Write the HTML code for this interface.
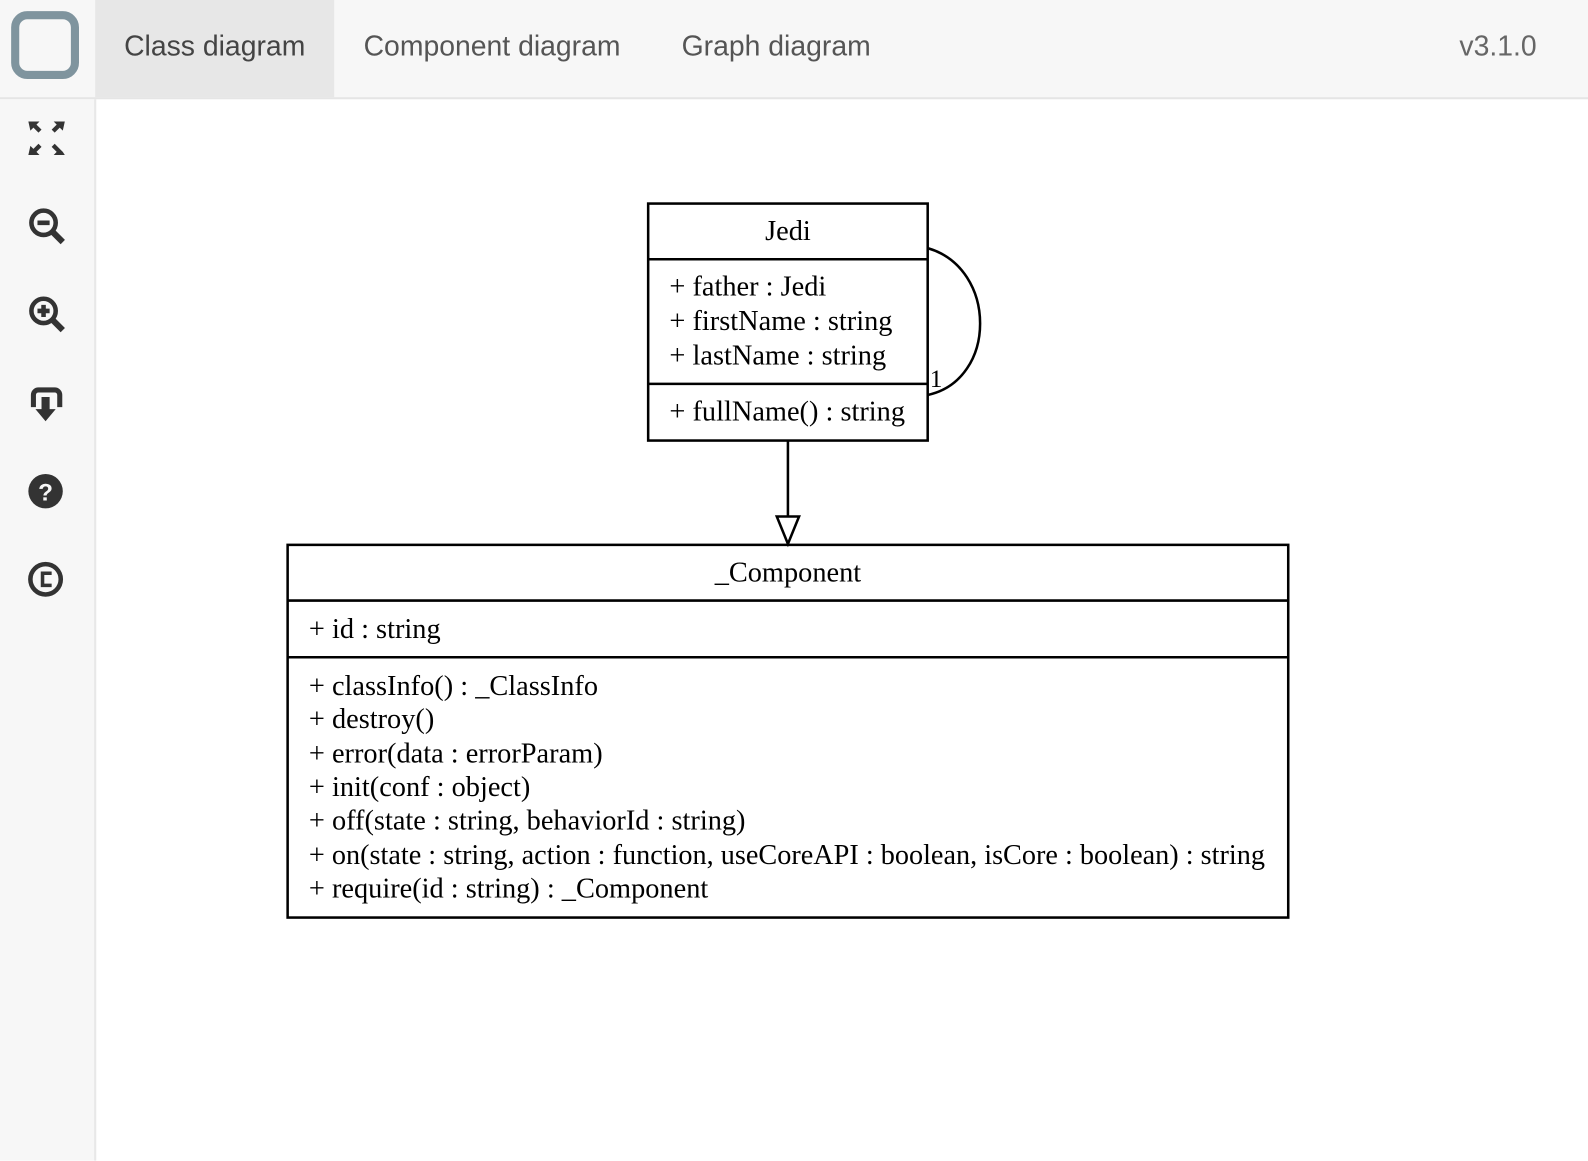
<!DOCTYPE html>
<html><head><meta charset="utf-8"><style>
body{margin:0;width:1588px;height:1146px;overflow:hidden;background:#fff;font-family:"Liberation Sans",sans-serif;position:relative}
#w{position:absolute;left:0;top:0;width:1568px;height:1132px;transform:scale(1.01276);transform-origin:0 0}
.hdr{position:absolute;left:0;top:0;width:1568px;height:96px;background:#f7f7f7;border-bottom:2px solid #e5e5e5}
.tab{position:absolute;top:0;height:96px;line-height:92px;font-size:28px;color:#555}
.side{position:absolute;left:0;top:98px;width:93px;height:1048px;background:#f7f7f7;border-right:2px solid #e8e8e8}
</style></head><body><div id="w">
<div class="hdr">
 <div style="position:absolute;border:8px solid #7f949e;border-radius:16px;width:51px;height:51px;left:11px;top:11px"></div>
 <div class="tab" style="left:94px;width:236px;background:#e7e7e7;text-align:center;color:#444">Class diagram</div>
 <div class="tab" style="left:359px">Component diagram</div>
 <div class="tab" style="left:673px">Graph diagram</div>
 <div class="tab" style="left:1441px;color:#666">v3.1.0</div>
</div>
<div class="side">
<svg width="93" height="520" viewBox="0 98 93 520">
 <g fill="#333">
  <path d="M28 120h11l-3 3 5 5-3 3-5-5-3 3z"/><path d="M64 120h-11l3 3-5 5 3 3 5-5 3 3z"/>
  <path d="M28 153h11l-3-3 5-5-3-3-5 5-3-3z"/><path d="M64 153h-11l3-3-5-5 3-3 5 5 3 3z"/>
 </g>
 <g stroke="#333" fill="none" stroke-width="4.5">
  <circle cx="43" cy="220" r="12"/><path d="M52 229l10 10" stroke-width="6"/><path d="M37 220h12"/>
  <circle cx="43" cy="307" r="12"/><path d="M52 316l10 10" stroke-width="6"/><path d="M37 307h12M43 301v12"/>
  <path d="M33 402v-12a5 5 0 0 1 5-5h16a5 5 0 0 1 5 5v12" stroke-width="5"/>
 </g>
 <path fill="#333" d="M41 404v-12h8v12h6l-10 12-10-12z"/>
 <circle cx="45" cy="485" r="17" fill="#333"/>
 <text x="45" y="494" font-size="24" font-weight="bold" fill="#f7f7f7" text-anchor="middle" font-family="Liberation Sans">?</text>
 <circle cx="45" cy="572" r="15" fill="none" stroke="#333" stroke-width="4.5"/>
 <path d="M51 566h-9v12h9" fill="none" stroke="#333" stroke-width="3.5"/>
</svg>
</div>
<svg style="position:absolute;left:0;top:0" width="1568" height="1132" font-family="Liberation Serif,serif" font-size="28" fill="#000">
 <g fill="none" stroke="#000" stroke-width="2.5">
  <rect x="640" y="201" width="276" height="234"/>
  <path d="M640 256h276M640 379h276"/>
  <path d="M916 245C985 265 985 375 916 390"/>
  <path d="M778 435v75"/>
  <path d="M767 510h22l-11 27z" fill="#fff"/>
  <rect x="284" y="538" width="988" height="368"/>
  <path d="M284 593h988M284 649h988"/>
 </g>
 <text x="778" y="237" text-anchor="middle">Jedi</text>
 <text x="661" y="292">+ father : Jedi</text>
 <text x="661" y="326">+ firstName : string</text>
 <text x="661" y="360">+ lastName : string</text>
 <text x="661" y="415">+ fullName() : string</text>
 <text x="918" y="382" font-size="25">1</text>
 <text x="778" y="574" text-anchor="middle">_Component</text>
 <text x="305" y="630">+ id : string</text>
 <text x="305" y="686">+ classInfo() : _ClassInfo</text>
 <text x="305" y="719">+ destroy()</text>
 <text x="305" y="753">+ error(data : errorParam)</text>
 <text x="305" y="786">+ init(conf : object)</text>
 <text x="305" y="819">+ off(state : string, behaviorId : string)</text>
 <text x="305" y="853" textLength="944" lengthAdjust="spacingAndGlyphs">+ on(state : string, action : function, useCoreAPI : boolean, isCore : boolean) : string</text>
 <text x="305" y="886">+ require(id : string) : _Component</text>
</svg>
</div></body></html>
